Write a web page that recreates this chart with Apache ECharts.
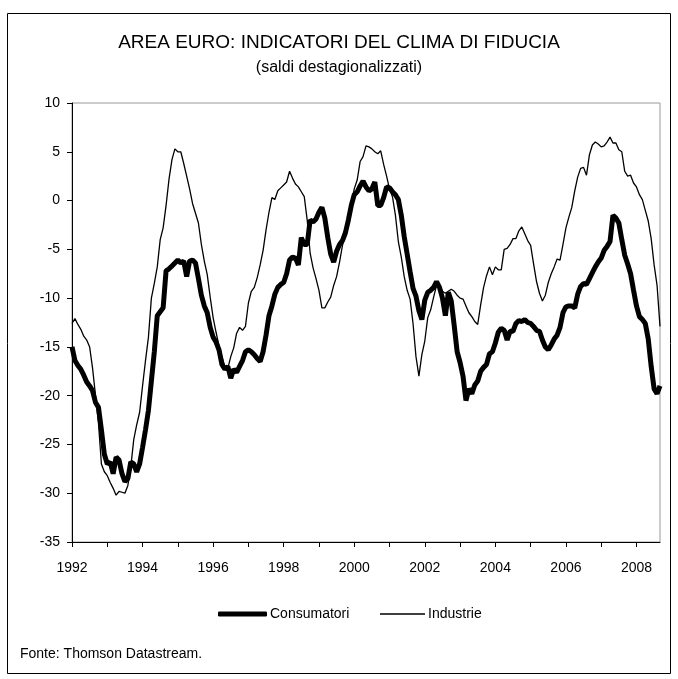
<!DOCTYPE html>
<html>
<head>
<meta charset="utf-8">
<script src="https://cdn.jsdelivr.net/npm/echarts@6/dist/echarts.min.js"></script>
<style>
  html, body { margin: 0; padding: 0; background: #fff; }
  #chart { width: 678px; height: 679px; }
</style>
</head>
<body>
<div id="chart"></div>
<script>
// mesi da gen 1992 a set 2008
var categories = [];
for (var y = 1992; y <= 2008; y++) {
    for (var m = 1; m <= 12; m++) {
        if (y === 2008 && m > 9) break;
        categories.push(y + '-' + (m < 10 ? '0' + m : m));
    }
}

var consumatori = [
    -15.0, -16.4, -16.9, -17.3, -17.9, -18.6, -19.0, -19.5, -20.7, -21.2, -23.5, -26.0,
    -27.0, -26.8, -28.0, -26.3, -26.6, -28.0, -28.8, -28.5, -26.8, -27.0, -27.8, -27.0,
    -25.3, -23.5, -21.5, -18.5, -15.5, -11.8, -11.4, -11.0, -7.2, -7.0, -6.7, -6.4,
    -6.1, -6.4, -6.2, -7.8, -6.2, -6.1, -6.4, -8.0, -9.7, -10.8, -11.5, -13.0,
    -14.0, -14.5, -15.3, -16.8, -17.3, -17.0, -18.2, -17.3, -17.6, -17.0, -16.4, -15.5,
    -15.3, -15.5, -15.8, -16.2, -16.5, -15.5, -13.8, -11.8, -10.8, -9.6, -8.9, -8.6,
    -8.4, -7.5, -6.1, -5.8, -5.9, -6.6, -3.8, -4.5, -4.5, -2.0, -2.2, -1.9,
    -1.2, -0.7, -1.8, -3.8, -5.5, -6.3, -5.2, -4.5, -4.1, -3.3, -2.0, -0.5,
    0.6, 0.9, 1.5, 2.0, 1.4, 1.0, 1.2, 1.9, -0.5, -0.5, 0.3, 1.4,
    1.3, 0.9, 0.6, 0.1, -1.5, -3.7, -5.5, -7.3, -9.0, -9.8, -11.3, -12.2,
    -10.2, -9.4, -9.2, -8.9, -8.3, -8.9, -10.0, -11.8, -9.4, -10.3, -12.8, -15.5,
    -16.6, -18.0, -20.5, -19.3, -19.8, -18.9, -18.5, -17.5, -17.1, -16.8, -15.7, -15.5,
    -14.6, -13.5, -13.1, -13.3, -14.3, -13.4, -13.4, -12.6, -12.3, -12.4, -12.2, -12.5,
    -12.6, -12.9, -13.3, -13.4, -14.3, -15.0, -15.3, -14.8, -14.2, -13.8, -13.0, -11.5,
    -10.9, -10.8, -10.8, -11.0, -9.6, -8.8, -8.5, -8.6, -8.0, -7.4, -6.8, -6.3,
    -5.9, -5.1, -4.7, -4.2, -1.5, -1.8, -2.3, -4.0, -5.6, -6.5, -7.5, -9.2,
    -10.8, -11.9, -12.2, -12.6, -14.2, -17.0, -19.3, -19.8, -19.0
];

var industrie = [
    -12.6, -12.1, -12.7, -13.2, -13.9, -14.3, -15.0, -17.2, -20.0, -22.8, -27.0, -27.8,
    -28.2, -28.9, -29.5, -30.2, -29.8, -29.9, -30.0, -29.2, -27.3, -24.5, -23.0, -21.7,
    -19.0, -16.4, -14.0, -10.0, -8.5, -6.8, -4.0, -2.8, -0.5, 2.2, 4.2, 5.3,
    5.0, 5.0, 3.8, 2.5, 1.2, -0.3, -1.3, -2.3, -4.5, -6.2, -7.6, -9.9,
    -12.0, -13.5, -14.9, -16.0, -17.0, -17.2, -16.0, -15.1, -13.6, -13.0, -13.3, -12.9,
    -10.5, -9.3, -8.9, -7.9, -6.6, -5.1, -3.0, -1.2, 0.3, 0.1, 1.0, 1.3,
    1.6, 1.9, 3.0, 2.3, 1.7, 1.4, 0.9, 0.4, -2.0, -5.4, -6.9, -8.0,
    -9.2, -11.0, -11.0, -10.4, -9.9, -8.7, -7.8, -6.3, -4.6, -3.5, -2.2, -0.4,
    1.2, 2.1, 4.0, 4.5, 5.6, 5.5, 5.3, 5.0, 4.8, 5.1, 3.7, 2.5,
    1.2, 0.4, -1.5, -4.2, -5.8, -7.8, -9.2, -10.1, -12.6, -16.0, -18.0, -15.8,
    -14.4, -12.0, -11.2, -9.9, -8.7, -8.7, -9.3, -9.5, -9.3, -9.1, -9.3, -9.7,
    -10.0, -10.1, -10.8, -11.5, -11.9, -12.4, -12.7, -10.7, -8.9, -7.7, -6.8, -7.6,
    -6.8, -7.1, -7.1, -5.0, -4.9, -4.5, -3.9, -3.9, -3.1, -2.7, -3.4, -4.1,
    -4.6, -6.5, -8.3, -9.5, -10.3, -9.7, -8.4, -7.5, -6.8, -6.0, -6.1, -4.5,
    -2.8, -1.7, -0.7, 1.0, 2.4, 3.3, 3.4, 2.6, 4.7, 5.7, 6.0, 5.8,
    5.5, 5.6, 6.0, 6.5, 5.9, 5.9, 5.2, 5.0, 3.0, 2.5, 2.6, 1.8,
    1.4, 0.6, 0.1, -1.0, -2.1, -3.9, -6.6, -8.7, -12.9
];

var font = 'Liberation Sans, Arial, sans-serif';

var myChart = echarts.init(document.getElementById('chart'));

var option = {
    backgroundColor: '#fff',
    animation: false,
    title: {
        text: 'AREA EURO: INDICATORI DEL CLIMA DI FIDUCIA',
        subtext: '(saldi destagionalizzati)',
        left: 'center',
        top: 28,
        itemGap: 8,
        textStyle: { fontFamily: font, fontSize: 19, fontWeight: 'normal', color: '#000' },
        subtextStyle: { fontFamily: font, fontSize: 16, color: '#000' }
    },
    legend: [
        {
            data: ['Consumatori'],
            left: 213,
            top: 602,
            itemWidth: 49,
            itemHeight: 5,
            icon: 'roundRect',
            itemGap: 3,
            textStyle: { fontFamily: font, fontSize: 14, color: '#000', padding: [0, 0, 0, -2] }
        },
        {
            data: ['Industrie'],
            left: 375,
            top: 602,
            itemWidth: 45,
            itemHeight: 1.3,
            icon: 'rect',
            textStyle: { fontFamily: font, fontSize: 14, color: '#000', padding: [0, 0, 0, -2] }
        }
    ],
    grid: {
        left: 72,
        right: 18,
        top: 103,
        bottom: 137,
        show: true,
        borderColor: '#999',
        borderWidth: 1
    },
    xAxis: {
        type: 'category',
        data: categories,
        boundaryGap: false,
        axisLine: { onZero: false, lineStyle: { color: '#000', width: 1 } },
        axisTick: { interval: 11, length: 5, lineStyle: { color: '#000' } },
        axisLabel: {
            interval: 23,
            color: '#000',
            fontFamily: font,
            fontSize: 14,
            margin: 19,
            formatter: function (v) { return v.slice(0, 4); }
        },
        splitLine: { show: false }
    },
    yAxis: {
        type: 'value',
        min: -35,
        max: 10,
        interval: 5,
        axisLine: { show: true, lineStyle: { color: '#000', width: 1 } },
        axisTick: { show: true, length: 5, lineStyle: { color: '#000' } },
        axisLabel: { color: '#000', fontFamily: font, fontSize: 14, margin: 12 },
        splitLine: { show: false }
    },
    series: [
        {
            name: 'Consumatori',
            type: 'line',
            data: consumatori,
            showSymbol: false,
            symbol: 'none',
            lineStyle: { color: '#000', width: 5 },
            itemStyle: { color: '#000' },
            z: 3
        },
        {
            name: 'Industrie',
            type: 'line',
            data: industrie,
            showSymbol: false,
            symbol: 'none',
            lineStyle: { color: '#000', width: 1.3 },
            itemStyle: { color: '#000' },
            z: 2
        }
    ],
    graphic: [
        {
            type: 'rect',
            shape: { x: 7.5, y: 13.5, width: 663, height: 660 },
            style: { fill: 'none', stroke: '#000', lineWidth: 1 },
            silent: true
        },
        {
            type: 'text',
            left: 20,
            top: 647,
            style: { text: 'Fonte: Thomson Datastream.', font: '14px ' + font, fill: '#000' }
        }
    ]
};

myChart.setOption(option);
</script>
</body>
</html>
